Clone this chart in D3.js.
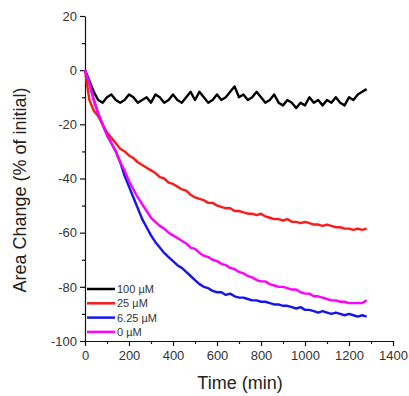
<!DOCTYPE html>
<html>
<head>
<meta charset="utf-8">
<script src="https://cdn.jsdelivr.net/npm/d3@7"></script>
<style>
  body { margin: 0; background: #fff; }
  text { font-family: Arial, "Liberation Sans", sans-serif; }
</style>
</head>
<body>
<div id="plot"></div>
<script>
// sampling times (min)
const times = [0, 20, 40, 60, 80, 100, 120, 140, 160, 180,
  200, 220, 240, 260, 280, 300, 320, 340, 360, 380,
  400, 420, 440, 460, 480, 500, 520, 540, 560, 580,
  600, 620, 640, 660, 680, 700, 720, 740, 760, 780,
  800, 820, 840, 860, 880, 900, 920, 940, 960, 980,
  1000, 1020, 1040, 1060, 1080, 1100, 1120, 1140, 1160, 1180,
  1200, 1220, 1240, 1260, 1280];

// area change (% of initial) for each concentration
const c100 = [0, -4, -8, -11, -12, -10, -9, -11, -12, -11,
  -9, -10, -12, -11, -10, -12, -9, -10, -12, -11,
  -9, -11, -12, -10, -8, -11, -8, -10, -12, -11,
  -9, -11, -10, -8, -6, -10, -9, -11, -10, -8,
  -10, -12, -11, -9, -12, -13, -11, -12, -14, -12,
  -13, -10, -12, -11, -13, -11, -12, -10, -12, -13,
  -10, -11, -9, -8, -7];
const c25 = [0, -11, -15, -17, -20, -23, -25, -27, -29, -30,
  -31.5, -32.5, -34, -35, -36, -37, -38, -39.5, -40, -41.5,
  -42, -43, -44, -44.5, -46, -47, -47.5, -48, -49, -49,
  -50, -50.5, -51, -51, -52, -52, -52.5, -53, -53, -53.5,
  -53, -54, -54.5, -55, -55, -55.5, -55, -56, -56, -56.5,
  -56, -56.5, -57, -57, -57.5, -57, -57.5, -58, -58, -58.5,
  -58.5, -59, -58.5, -59, -58.5];
const c625 = [0, -5, -11, -16, -20, -24, -27, -30, -34, -39,
  -43, -47, -51, -55, -58, -61, -63.5, -65.5, -67.5, -69,
  -70.5, -72, -73, -74.5, -76, -77.5, -79, -80, -80.5, -81.5,
  -82, -82, -83, -82.5, -83.5, -84, -84, -84.5, -85, -85,
  -85.5, -85.5, -86, -86.5, -86.5, -87, -87, -87.5, -88, -87.5,
  -88.5, -88.5, -89, -89.5, -89, -89.5, -90, -89.5, -90, -90.5,
  -90, -90.5, -91, -90.5, -91];
const c0 = [0, -5, -11, -16, -20, -24, -27, -30, -34, -37,
  -41, -44, -47, -49.5, -52, -54.5, -56, -57.5, -58.5, -60,
  -61, -62, -63, -64, -65.5, -66, -67.5, -68.5, -69, -70,
  -70.5, -71.5, -72, -73, -73.5, -74.5, -75, -76, -76.5, -77.5,
  -78, -78, -79, -79.5, -80, -80, -80.5, -81, -81, -82,
  -82.5, -82.5, -83.5, -83.5, -84, -84.5, -85, -85, -85.5, -85.5,
  -86, -86, -86, -86, -85];

const seriesNames = ["100 \u00b5M", "25 \u00b5M", "6.25 \u00b5M", "0 \u00b5M"];
const seriesColors = ["#000000", "#ff1a1a", "#1414f0", "#ff00ff"];
const seriesValues = [c100, c25, c625, c0];

const xTicks = [0, 200, 400, 600, 800, 1000, 1200, 1400];
const yTicks = [20, 0, -20, -40, -60, -80, -100];

const W = 409, H = 396;
const margin = { top: 16, right: 16, bottom: 55, left: 85 };

const svg = d3.select("#plot")
    .append("svg")
    .attr("width", W)
    .attr("height", H);

const x = d3.scaleLinear().domain([0, 1400]).range([margin.left, W - margin.right]);
const y = d3.scaleLinear().domain([-100, 20]).range([H - margin.bottom, margin.top]);

// minor ticks
svg.append("g")
    .attr("transform", `translate(0,${y(-100)})`)
    .call(d3.axisBottom(x).tickValues(d3.range(100, 1400, 200)).tickSize(3).tickSizeOuter(0).tickFormat(""))
    .call(g => g.select(".domain").remove());
svg.append("g")
    .attr("transform", `translate(${x(0)},0)`)
    .call(d3.axisLeft(y).tickValues(d3.range(-90, 20, 20)).tickSize(3).tickSizeOuter(0).tickFormat(""))
    .call(g => g.select(".domain").remove());

// major axes
svg.append("g")
    .attr("transform", `translate(0,${y(-100)})`)
    .call(d3.axisBottom(x).tickValues(xTicks).tickSize(5).tickSizeOuter(0).tickPadding(5)
        .tickFormat(d3.format("d")));
svg.append("g")
    .attr("transform", `translate(${x(0)},0)`)
    .call(d3.axisLeft(y).tickValues(yTicks).tickSize(5).tickSizeOuter(0).tickPadding(3)
        .tickFormat(d => d < 0 ? "-" + Math.abs(d) : d));

svg.selectAll(".tick line, .domain").attr("stroke", "#111").attr("stroke-width", 1.2);
svg.selectAll(".tick text")
    .attr("font-size", "13px")
    .attr("fill", "#333");

// lines
const line = d3.line()
    .x((d, i) => x(times[i]))
    .y(d => y(d));

seriesValues.forEach((vals, k) => {
    svg.append("path")
        .datum(vals)
        .attr("fill", "none")
        .attr("stroke", seriesColors[k])
        .attr("stroke-width", 2.4)
        .attr("stroke-linejoin", "round")
        .attr("d", line);
});

// axis titles
svg.append("text")
    .attr("x", 240)
    .attr("y", 389)
    .attr("text-anchor", "middle")
    .attr("font-size", "18px")
    .attr("fill", "#222")
    .text("Time (min)");

svg.append("text")
    .attr("transform", "translate(26,190) rotate(-90)")
    .attr("text-anchor", "middle")
    .attr("font-size", "18px")
    .attr("fill", "#222")
    .text("Area Change (% of initial)");

// legend
const legend = svg.append("g");
seriesNames.forEach((name, k) => {
    const ly = 289 + k * 14.3;
    legend.append("line")
        .attr("x1", 87).attr("x2", 115)
        .attr("y1", ly).attr("y2", ly)
        .attr("stroke", seriesColors[k])
        .attr("stroke-width", 2.5);
    legend.append("text")
        .attr("x", 117)
        .attr("y", ly + 4)
        .attr("font-size", "11px")
        .attr("fill", "#333")
        .text(name);
});
</script>
</body>
</html>
